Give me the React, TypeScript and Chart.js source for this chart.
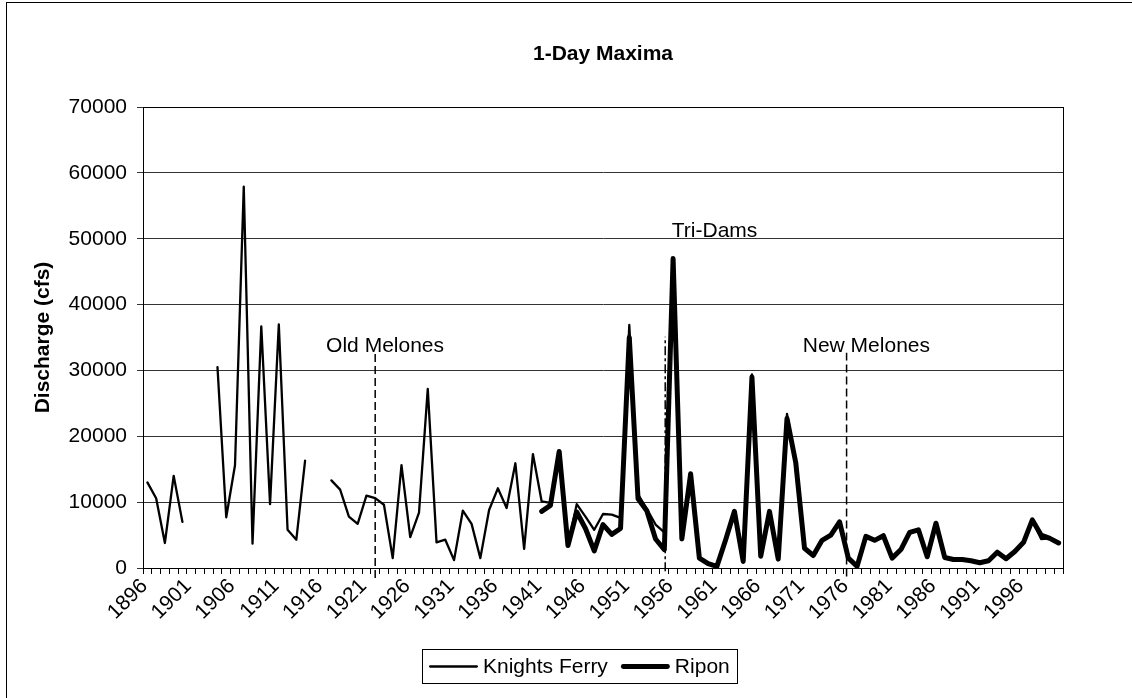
import React, { useEffect, useRef } from 'react';
import { Chart, registerables } from 'chart.js';

Chart.register(...registerables);

const FONT = "'Liberation Sans', Arial, Helvetica, sans-serif";

// Categories: one per water year, 1896 .. 2000
const years: string[] = Array.from({ length: 105 }, (_, i) => String(1896 + i));

// Tick labels that are printed (every fifth year)
const xTickLabels: string[] = [
  '1896', '1901', '1906', '1911', '1916', '1921', '1926', '1931', '1936', '1941', '1946',
  '1951', '1956', '1961', '1966', '1971', '1976', '1981', '1986', '1991', '1996',
];

// Knights Ferry 1-day maxima (cfs)
const knightsFerry: (number | null)[] = [
  13000, 10600, 3800, 14000, 7000, null, null, null, 30500, 7700, // 1896-1905
  15600, 57900, 3700, 36700, 9700, 37000, 5800, 4300, 16300, null, // 1906-1915
  null, 13300, 11900, 7800, 6700, 11000, 10600, 9600, 1500, 15600, // 1916-1925
  4700, 8400, 27200, 3900, 4300, 1200, 8700, 6700, 1500, 8800, // 1926-1935
  12100, 9100, 15900, 2900, 17300, 10100, 9900, 17600, 3500, 9700, // 1936-1945
  7800, 5800, 8200, 8100, 7600, 36900, 11200, 9000, 6600, 5400, // 1946-1955
  47000, 4400, 14300, 1500, 650, 250, 4300, 8600, 1000, 29400, // 1956-1965
  1800, 8600, 1350, 23400, 16000, 3000, 1900, 4200, 5000, 7000, // 1966-1975
  1500, 250, 4800, 4200, 4900, 1500, 2800, 5400, 5800, 1700, // 1976-1985
  6800, 1600, 1300, 1300, 1100, 800, 1100, 2400, 1400, 2500, // 1986-1995
  3900, 7300, 4400, 4500, 3800, // 1996-2000
];

// Ripon 1-day maxima (cfs)
const ripon: (number | null)[] = [
  null, null, null, null, null, null, null, null, null, null, // 1896-1905
  null, null, null, null, null, null, null, null, null, null, // 1906-1915
  null, null, null, null, null, null, null, null, null, null, // 1916-1925
  null, null, null, null, null, null, null, null, null, null, // 1926-1935
  null, null, null, null, null, 8600, 9500, 17700, 3400, 8500, // 1936-1945
  6000, 2600, 6600, 5100, 6000, 35000, 10500, 8700, 4400, 2800, // 1946-1955
  47000, 4400, 14300, 1500, 650, 250, 4300, 8600, 1000, 29000, // 1956-1965
  1800, 8600, 1350, 22700, 16000, 3000, 1900, 4200, 5000, 7000, // 1966-1975
  1500, 250, 4800, 4200, 4900, 1500, 2800, 5400, 5800, 1700, // 1976-1985
  6800, 1600, 1300, 1300, 1100, 800, 1100, 2400, 1400, 2500, // 1986-1995
  3900, 7300, 5000, 4500, 3800, // 1996-2000
];

// Dam markers (vertical dashed lines) and their labels
const damNames: string[] = ['Old Melones', 'Tri-Dams', 'New Melones'];
const damYears: number[] = [1922.0, 1955.1, 1975.8];
const damTops: number[] = [32700, 35100, 32700];
const damBottoms: number[] = [-1500, -500, -1300];
const damLabelYears: number[] = [1916.4, 1955.85, 1970.8];
const damLabelValues: number[] = [32800, 50300, 32850];

const dashPatterns: number[][] = [[8, 4], [9, 3, 3, 3], [8, 4]];

const pagePlugin = {
  id: 'pageFrame',
  beforeDraw(chart: any) {
    const { ctx, width, height } = chart;
    ctx.save();
    ctx.fillStyle = '#fff';
    ctx.fillRect(0, 0, width, height);
    ctx.strokeStyle = '#000';
    ctx.lineWidth = 1;
    ctx.strokeRect(6.5, 2.5, 1300, 900);
    ctx.restore();
  },
  beforeDatasetsDraw(chart: any) {
    const { ctx, chartArea } = chart;
    ctx.save();
    ctx.strokeStyle = '#000';
    ctx.lineWidth = 1;
    ctx.strokeRect(
      Math.round(chartArea.left) + 0.5,
      Math.round(chartArea.top) + 0.5,
      Math.round(chartArea.right) - Math.round(chartArea.left),
      Math.round(chartArea.bottom) - Math.round(chartArea.top)
    );
    ctx.restore();
  },
  afterDraw(chart: any) {
    const { ctx, chartArea, scales } = chart;
    ctx.save();
    // Title
    ctx.fillStyle = '#000';
    ctx.font = `bold 21px ${FONT}`;
    ctx.textAlign = 'center';
    ctx.textBaseline = 'middle';
    ctx.fillText('1-Day Maxima', (chartArea.left + chartArea.right) / 2, 54);

    // Dam labels
    ctx.font = `21px ${FONT}`;
    ctx.textAlign = 'left';
    ctx.textBaseline = 'alphabetic';
    damNames.forEach((name, i) => {
      const x = scales.x2.getPixelForValue(damLabelYears[i]);
      const y = scales.y.getPixelForValue(damLabelValues[i]);
      ctx.fillText(name, x, y);
    });

    // Legend with a box
    const items = chart.data.datasets.filter((d: any) => d.inLegend);
    const left = 422;
    const top = 649;
    const h = 34;
    const pad = 7;
    const sample = 49;
    const gap = 5;
    const itemGap = 13;
    let total = pad * 2;
    items.forEach((d: any, i: number) => {
      total += sample + gap + ctx.measureText(d.label).width + (i > 0 ? itemGap : 0);
    });
    ctx.strokeStyle = '#000';
    ctx.lineWidth = 1;
    ctx.strokeRect(left + 0.5, top + 0.5, Math.round(total), h);
    let x = left + pad;
    const cy = top + h / 2 + 0.5;
    ctx.textBaseline = 'middle';
    items.forEach((d: any, i: number) => {
      if (i > 0) x += itemGap;
      ctx.beginPath();
      ctx.lineWidth = d.legendWidth;
      ctx.lineCap = 'round';
      ctx.moveTo(x + d.legendWidth / 2, cy);
      ctx.lineTo(x + sample - d.legendWidth / 2, cy);
      ctx.stroke();
      x += sample + gap;
      ctx.fillText(d.label, x, cy + 1);
      x += ctx.measureText(d.label).width;
    });
    ctx.restore();
  },
};

export default function App() {
  const ref = useRef<HTMLCanvasElement>(null);

  useEffect(() => {
    const canvas = ref.current;
    if (!canvas) return;

    const damDatasets = damNames.map((name, i) => ({
      type: 'line' as const,
      label: name,
      xAxisID: 'x2',
      yAxisID: 'y',
      data: [
        { x: damYears[i], y: damBottoms[i] },
        { x: damYears[i], y: damTops[i] },
      ],
      borderColor: '#000',
      borderWidth: 1.5,
      borderDash: dashPatterns[i],
      pointRadius: 0,
      fill: false,
      clip: false as any,
    }));

    const chart = new Chart(canvas, {
      type: 'line',
      data: {
        labels: years,
        datasets: [
          {
            label: 'Knights Ferry',
            data: knightsFerry,
            borderColor: '#000',
            backgroundColor: '#000',
            borderWidth: 2.3,
            pointRadius: 0,
            fill: false,
            tension: 0,
            borderJoinStyle: 'round',
            borderCapStyle: 'round',
            xAxisID: 'x',
            yAxisID: 'y',
            inLegend: true,
            legendWidth: 2.3,
          } as any,
          {
            label: 'Ripon',
            data: ripon,
            borderColor: '#000',
            backgroundColor: '#000',
            borderWidth: 5,
            pointRadius: 0,
            fill: false,
            tension: 0,
            borderJoinStyle: 'round',
            borderCapStyle: 'round',
            xAxisID: 'x',
            yAxisID: 'y',
            inLegend: true,
            legendWidth: 4.8,
          } as any,
          ...(damDatasets as any[]),
        ],
      },
      options: {
        responsive: false,
        animation: false,
        devicePixelRatio: 1,
        layout: { padding: { left: 20, top: 107, right: 69, bottom: 70 } },
        plugins: {
          legend: { display: false },
          title: { display: false },
          tooltip: { enabled: false },
        },
        scales: {
          x: {
            type: 'category',
            offset: true,
            grid: {
              display: true,
              drawOnChartArea: false,
              drawTicks: true,
              tickLength: 6,
              offset: true,
              color: '#000',
              lineWidth: 1,
            },
            border: { display: true, color: '#000', width: 1 },
            ticks: {
              autoSkip: false,
              maxRotation: 45,
              minRotation: 45,
              labelOffset: -3,
              padding: 0,
              color: '#000',
              font: { family: FONT, size: 21 },
              callback: function (this: any, value: any) {
                const lab = this.getLabelForValue(value);
                return xTickLabels.includes(lab) ? lab : '';
              },
            },
            afterFit: (s: any) => {
              s.height = 60;
            },
          },
          x2: {
            type: 'linear',
            display: false,
            min: 1895.5,
            max: 2000.5,
          },
          y: {
            type: 'linear',
            min: 0,
            max: 70000,
            ticks: {
              stepSize: 10000,
              color: '#000',
              padding: 10,
              font: { family: FONT, size: 21 },
              callback: (v: any) => String(v),
            },
            grid: { color: '#333', lineWidth: 1, tickLength: 6 },
            border: { display: true, color: '#000', width: 1 },
            title: {
              display: true,
              text: 'Discharge (cfs)',
              color: '#000',
              font: { family: FONT, size: 21, weight: 'bold' },
              padding: { top: 11, bottom: 0 },
            },
            afterFit: (s: any) => {
              s.width = 123;
            },
          },
        } as any,
      },
      plugins: [pagePlugin],
    });

    return () => {
      chart.destroy();
    };
  }, []);

  return (
    <div
      style={{
        position: 'fixed',
        left: 0,
        top: 0,
        width: 1132,
        height: 698,
        overflow: 'hidden',
        background: '#fff',
      }}
    >
      <canvas ref={ref} width={1132} height={698} style={{ width: 1132, height: 698, display: 'block' }} />
    </div>
  );
}
